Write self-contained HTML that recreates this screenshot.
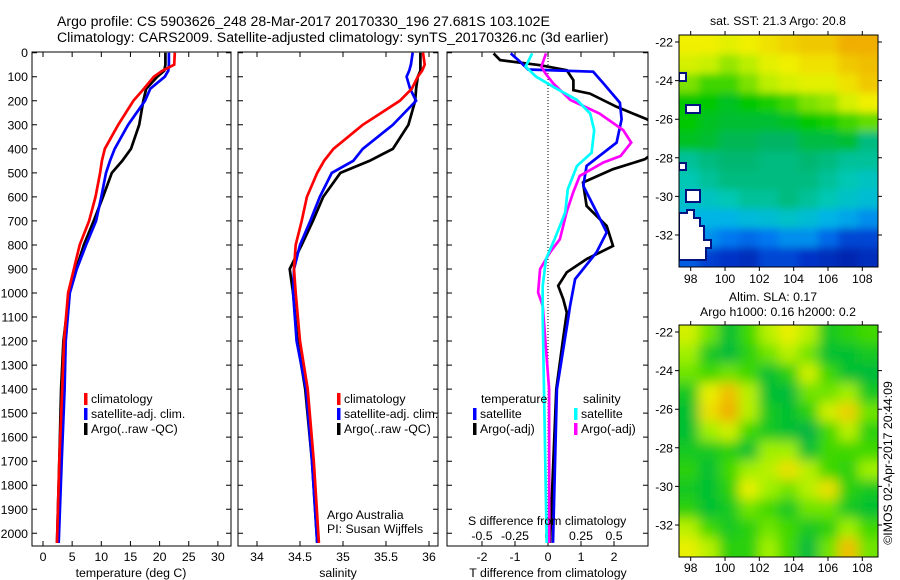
<!DOCTYPE html>
<html><head><meta charset="utf-8"><style>
html,body{margin:0;padding:0;background:#fff;}
svg{display:block;font-family:"Liberation Sans",sans-serif;}
text{font-size:12.3px;fill:#000;}
</style></head><body>
<svg id="fig" width="900" height="580" viewBox="0 0 900 580">
<text x="57" y="26" style="font-size:14.1px">Argo profile: CS 5903626_248 28-Mar-2017 20170330_196 27.681S 103.102E</text>
<text x="57" y="42" style="font-size:14.1px">Climatology: CARS2009. Satellite-adjusted climatology: synTS_20170326.nc (3d earlier)</text>
<text x="778" y="25" text-anchor="middle">sat. SST: 21.3 Argo: 20.8</text>
<text x="773" y="301" text-anchor="middle">Altim. SLA: 0.17</text>
<text x="778" y="316" text-anchor="middle">Argo h1000: 0.16 h2000: 0.2</text>
<text transform="translate(892,463) rotate(-90)" text-anchor="middle">©IMOS 02-Apr-2017 20:44:09</text>
<g id="layer"></g>
</svg>
<script>
// ---- profile data (depth in m) ----
const depths=[0,50,75,100,150,200,300,400,450,500,600,700,800,900,1000,1200,1400,1700,2040];
const tempClim=[22.6,22.5,20.5,19.0,17.3,15.5,12.9,10.6,10.1,9.8,9.0,7.9,6.3,5.3,4.3,3.6,3.3,2.8,2.4];
const tempSat=[21.6,21.6,21.5,20.9,18.4,17.5,14.6,12.3,11.5,10.8,10.0,9.1,7.4,5.8,4.6,3.9,3.7,3.2,2.7];
const tempArgo=[21.0,21.0,20.8,19.6,17.7,17.2,16.5,15.1,13.6,11.8,10.3,8.7,7.0,5.7,4.5,3.5,3.1,2.8,2.4];
const salClim=[35.93,35.95,35.92,35.87,35.8,35.66,35.23,34.89,34.78,34.70,34.58,34.52,34.45,34.43,34.45,34.5,34.59,34.66,34.72];
const salSat=[35.81,35.79,35.77,35.74,35.78,35.85,35.58,35.23,35.12,34.87,34.73,34.62,34.5,34.43,34.42,34.46,34.57,34.64,34.70];
const salArgo=[35.9,35.9,35.9,35.87,35.85,35.84,35.76,35.58,35.31,34.97,34.77,34.65,34.52,34.38,34.42,34.47,34.56,34.64,34.70];
const dTSatDepth=[3,37,70,79,126,208,277,374,471,554,665,748,831,942,1053,1108,1400,2040];
const dTSat=[-1.13,-0.85,-0.6,1.37,1.67,2.18,2.23,2.08,1.17,1.07,1.48,1.78,1.47,0.82,0.67,0.61,0.27,0.15];
const dTArgoDepth=[3,31,52,73,115,156,170,225,277,350,443,485,540,638,721,804,859,914,970,1025,1081,1197,1400,2040];
const dTArgo=[-1.65,-1.45,-0.24,0.57,0.77,0.77,1.27,2.08,3.0,3.8,2.94,1.97,1.06,1.17,1.78,1.97,1.17,0.57,0.31,0.46,0.57,0.45,0.25,0.06];
const dSSatDepth=[3,58,100,142,197,253,322,416,471,568,665,776,859,970,1095,1400,2040];
const dSSat=[-0.12,-0.17,-0.09,0.04,0.22,0.32,0.35,0.33,0.22,0.15,0.13,0.05,-0.015,-0.04,-0.04,-0.03,-0.01];
const dSArgoDepth=[3,58,86,128,197,253,322,374,430,457,513,582,665,776,831,900,998,1053,1400,2040];
const dSArgo=[-0.015,-0.05,-0.02,0.04,0.17,0.39,0.57,0.63,0.55,0.42,0.24,0.19,0.14,0.09,0.015,-0.06,-0.075,-0.04,0.008,0.01];
const depthTicks=[0,100,200,300,400,500,600,700,800,900,1000,1100,1200,1300,1400,1500,1600,1700,1800,1900,2000];
const tempTicks=[0,5,10,15,20,25,30];
const salTicks=[34,34.5,35,35.5,36];
const dTTicks=[-2,-1,0,1,2];
const dSTicks=[-0.5,-0.25,0,0.25,0.5];
const dSTickLabels=["-0.5","-0.25","0","0.25","0.5"];
// ---- map data (rows from -22 to -33, columns 97.3 -> 108.9) ----
const sstGrid=[
[0.72,0.72,0.7,0.72,0.75,0.78,0.8,0.8,0.85,0.85],
[0.68,0.66,0.62,0.65,0.7,0.72,0.75,0.75,0.8,0.82],
[0.6,0.55,0.55,0.6,0.65,0.68,0.7,0.7,0.75,0.8],
[0.5,0.5,0.48,0.5,0.52,0.55,0.6,0.62,0.68,0.72],
[0.5,0.48,0.47,0.47,0.47,0.48,0.5,0.52,0.55,0.58],
[0.48,0.47,0.45,0.45,0.44,0.44,0.46,0.46,0.47,0.42],
[0.4,0.42,0.43,0.43,0.42,0.42,0.43,0.42,0.4,0.4],
[0.38,0.4,0.42,0.42,0.42,0.42,0.42,0.4,0.38,0.36],
[0.35,0.36,0.38,0.4,0.4,0.42,0.4,0.38,0.35,0.33],
[0.3,0.3,0.3,0.32,0.33,0.35,0.33,0.3,0.28,0.25],
[0.25,0.25,0.22,0.2,0.22,0.25,0.25,0.2,0.15,0.15],
[0.18,0.14,0.12,0.1,0.15,0.15,0.12,0.1,0.08,0.1]];
const slaGrid=[
[0.65,0.5,0.3,0.45,0.6,0.7,0.6,0.35,0.4,0.45],
[0.55,0.35,0.25,0.4,0.5,0.6,0.5,0.3,0.3,0.35],
[0.5,0.45,0.5,0.45,0.3,0.4,0.65,0.45,0.3,0.25],
[0.35,0.7,0.85,0.6,0.3,0.25,0.5,0.5,0.55,0.35],
[0.3,0.75,0.9,0.6,0.35,0.3,0.4,0.65,0.8,0.5],
[0.3,0.55,0.65,0.45,0.35,0.3,0.2,0.45,0.6,0.4],
[0.35,0.35,0.4,0.3,0.55,0.55,0.3,0.45,0.45,0.45],
[0.4,0.3,0.45,0.55,0.6,0.75,0.6,0.45,0.4,0.55],
[0.35,0.3,0.4,0.7,0.55,0.5,0.6,0.75,0.4,0.35],
[0.4,0.3,0.35,0.5,0.45,0.35,0.5,0.5,0.35,0.3],
[0.6,0.45,0.35,0.4,0.5,0.45,0.35,0.4,0.55,0.45],
[0.7,0.6,0.4,0.4,0.55,0.45,0.25,0.5,0.85,0.5]];
const lonTicks=[98,100,102,104,106,108];
const latTicks=[-22,-24,-26,-28,-30,-32];

const NS="http://www.w3.org/2000/svg";
const layer=document.getElementById('layer');
function mk(tag,attrs,parent){const e=document.createElementNS(NS,tag);for(const k in attrs)e.setAttribute(k,attrs[k]);(parent||layer).appendChild(e);return e;}
const Y0=52.7,YS=0.2403,YB=546;
const yD=d=>Y0+YS*d;
const xT=v=>43+5.83*v;
const xS=v=>257+86*(v-34);
const xDT=v=>548+33*v;
const xDS=v=>548+132*v;
const defs=mk('defs',{});
function panel(name,x0,x1){
  const cp=mk('clipPath',{id:'cp-'+name},defs);
  mk('rect',{x:x0,y:Y0-0.7,width:x1-x0,height:YB-Y0+0.7},cp);
  const f=mk('rect',{x:x0,y:52,width:x1-x0,height:YB-52,fill:'none',stroke:'#000','stroke-width':1});
  
  
  depthTicks.forEach(d=>{
    const t=mk('path',{d:`M${x0},${yD(d)}h5M${x1},${yD(d)}h-5`,stroke:'#000'});
    
    
  });
}
function line(name,xf,ds,vs,color,clip){
  const p=mk('path',{d:ds.map((d,i)=>(i?'L':'M')+xf(vs[i]).toFixed(1)+','+yD(d).toFixed(1)).join(''),fill:'none',stroke:color,'stroke-width':2.7,'stroke-linejoin':'miter','clip-path':'url(#cp-'+clip+')'});
  
  
}
function xticks(xf,ticks,labels,y,x0,x1,top){
  ticks.forEach((v,i)=>{
    const x=xf(v);
    const t=mk('path',{d:`M${x},${YB}v-5`+(top?`M${x},52v5`:''),stroke:'#000'});
    
    
    const l=mk('text',{x:x,y:y,'text-anchor':'middle'});l.textContent=labels?labels[i]:String(v);
    
    
  });
}
panel('temperature-panel',32,231);
panel('salinity-panel',238,438);
panel('difference-panel',447,648);
depthTicks.forEach(d=>{
  const l=mk('text',{x:28,y:yD(d)+4.5,'text-anchor':'end'});l.textContent=d;
  
  
});
xticks(xT,tempTicks,null,561,32,231,true);
xticks(xS,salTicks,null,561,238,438,true);
xticks(xDT,dTTicks,null,561,447,648,true);
dSTicks.forEach((v,i)=>{
  const l=mk('text',{x:xDS(v),y:540,'text-anchor':'middle'});l.textContent=dSTickLabels[i];
  
  
});
const dz=mk('path',{d:`M548,52V${YB}`,stroke:'#000','stroke-dasharray':'1,2'});


line('temp-argo',xT,depths,tempArgo,'#000','temperature-panel');
line('temp-sat-adj',xT,depths,tempSat,'#0000ff','temperature-panel');
line('temp-climatology',xT,depths,tempClim,'#ff0000','temperature-panel');
line('sal-argo',xS,depths,salArgo,'#000','salinity-panel');
line('sal-sat-adj',xS,depths,salSat,'#0000ff','salinity-panel');
line('sal-climatology',xS,depths,salClim,'#ff0000','salinity-panel');
line('dt-argo',xDT,dTArgoDepth,dTArgo,'#000','difference-panel');
line('dt-sat',xDT,dTSatDepth,dTSat,'#0000ff','difference-panel');
line('ds-argo',xDS,dSArgoDepth,dSArgo,'#ff00ff','difference-panel');
line('ds-sat',xDS,dSSatDepth,dSSat,'#00ffff','difference-panel');
function legend(x,y,items){
  items.forEach((it,i)=>{
    const r=mk('rect',{x:x,y:y+i*15-10,width:3.5,height:12,fill:it[1]});
    
    
    const t=mk('text',{x:x+7,y:y+i*15});t.textContent=it[0];
    
    
  });
}
legend(84,403,[['climatology','#ff0000'],['satellite-adj. clim.','#0000ff'],['Argo(..raw -QC)','#000']]);
legend(337,403,[['climatology','#ff0000'],['satellite-adj. clim.','#0000ff'],['Argo(..raw -QC)','#000']]);
legend(473,418,[['satellite','#0000ff'],['Argo(-adj)','#000']]);
legend(574,418,[['satellite','#00ffff'],['Argo(-adj)','#ff00ff']]);
[['temperature',481,403],['salinity',583,403],['Argo Australia',327,519],['PI: Susan Wijffels',327,533],['S difference from climatology',468,525]].forEach(a=>{
  const t=mk('text',{x:a[1],y:a[2]});t.textContent=a[0];
  
  
});
[['temperature (deg C)',131],['salinity',338],['T difference from climatology',548]].forEach(a=>{
  const t=mk('text',{x:a[1],y:577,'text-anchor':'middle'});t.textContent=a[0];
  
  
});
// ---- maps ----
function cmap(stops,v){
  for(let i=1;i<stops.length;i++){if(v<=stops[i][0]){const a=stops[i-1],b=stops[i],f=(v-a[0])/(b[0]-a[0]);
    return 'rgb('+[0,1,2].map(k=>Math.round(a[1][k]+f*(b[1][k]-a[1][k]))).join(',')+')';}}
  return 'rgb('+stops[stops.length-1][1].join(',')+')';
}
const sstStops=[[0,[0,19,127]],[0.12,[0,50,200]],[0.22,[0,120,240]],[0.3,[0,180,230]],[0.38,[0,200,180]],[0.44,[0,180,100]],[0.5,[0,200,0]],[0.58,[100,220,0]],[0.66,[200,240,0]],[0.72,[240,240,0]],[0.8,[240,200,0]],[0.9,[240,150,0]]];
const slaStops=[[0,[0,160,112]],[0.3,[0,192,48]],[0.45,[64,216,0]],[0.55,[160,240,0]],[0.7,[232,240,0]],[0.85,[240,192,0]],[1,[240,144,0]]];
const MX0=679,MX1=878;
const lonX=l=>690.7+17.16*(l-98);
function map(name,grid,stops,top,bot,lat22y,blur){
  const latY=l=>lat22y+19.3*(-22-l);
  const cp=mk('clipPath',{id:'cp-'+name},defs);
  mk('rect',{x:MX0,y:top,width:MX1-MX0,height:bot-top},cp);
  const fl=mk('filter',{id:'bl-'+name,x:'-10%',y:'-10%',width:'120%',height:'120%'},defs);
  mk('feGaussianBlur',{stdDeviation:blur},fl);
  const outer=mk('g',{'clip-path':'url(#cp-'+name+')'});
  
  
  const g=mk('g',{filter:'url(#bl-'+name+')'},outer);
  const nr=grid.length,nc=grid[0].length,cw=(MX1-MX0)/nc,ch=(bot-top)/nr;
  grid.forEach((row,r)=>row.forEach((v,c)=>{
    const x=MX0+c*cw-(c==0?20:0),y=top+r*ch-(r==0?20:0);
    const w=cw+(c==0?20:0)+(c==nc-1?20:0)+0.5,h=ch+(r==0?20:0)+(r==nr-1?20:0)+0.5;
    const cell=mk('rect',{x:x,y:y,width:w,height:h,fill:cmap(stops,v)},g);
    
    
  }));
  return {outer,latY};
}
function mapAxes(name,top,bot,latY,labY){
  const f=mk('rect',{x:MX0,y:top,width:MX1-MX0,height:bot-top,fill:'none',stroke:'#000'});
  
  
  latTicks.forEach(l=>{
    const y=latY(l);
    const t=mk('path',{d:`M${MX0-4},${y}h4M${MX1},${y}h4`,stroke:'#000'});
    
    
    const tl=mk('text',{x:673,y:y+4.5,'text-anchor':'end'});tl.textContent=l;
    
    
  });
  lonTicks.forEach(l=>{
    const x=lonX(l);
    const t=mk('path',{d:`M${x},${bot}v4M${x},${top}v-4`,stroke:'#000'});
    
    
    const tl=mk('text',{x:x,y:labY,'text-anchor':'middle'});tl.textContent=l;
    
    
  });
}
const sst=map('sst-map',sstGrid,sstStops,35,267,42,4);
const land=mk('path',{d:'M679,213h8v-3h7v8h6v8h4v14h7v8h-5v12h-27z M686,190h14v12h-14z M686,105h14v8h-14z M679,73h7v8h-7z M679,163h7v7h-7z',fill:'#fff',stroke:'#00137f','stroke-width':2,'clip-path':'url(#cp-sst-map)'});


mapAxes('sst-map',35,267,sst.latY,283);
const sla=map('sla-map',slaGrid,slaStops,325,557,332,6);
mapAxes('sla-map',325,557,sla.latY,572);
</script>
</body></html>
